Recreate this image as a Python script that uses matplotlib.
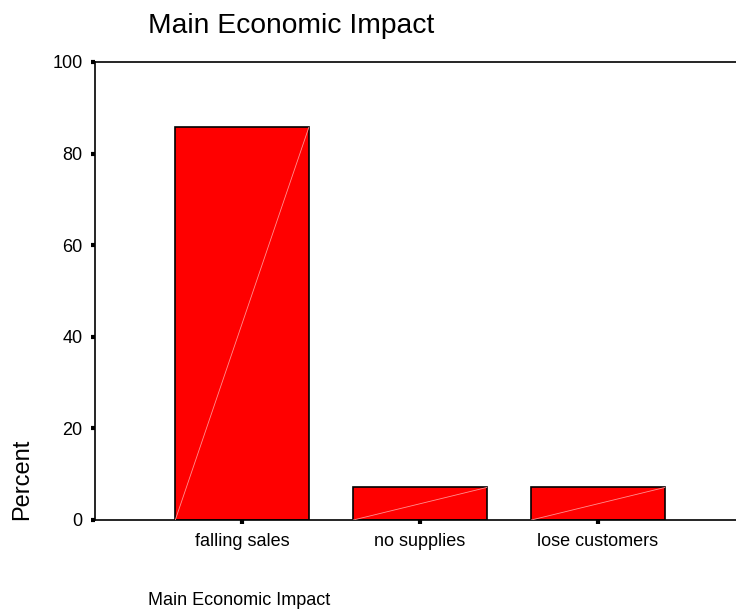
import matplotlib
matplotlib.use("Agg")
import matplotlib.pyplot as plt

plt.rcParams['font.family'] = ['Liberation Sans', 'DejaVu Sans']

# Data
categories = ["falling sales", "no supplies", "lose customers"]
percent = [85.7, 7.1, 7.1]
y_ticks = [0, 20, 40, 60, 80, 100]

fig = plt.figure(figsize=(7.36, 6.11), dpi=100)
ax = fig.add_axes([95 / 736, 91 / 611, 1 - 95 / 736, 458 / 611])

x = list(range(len(categories)))
bars = ax.bar(x, percent, width=0.75, color='#ff0000', edgecolor='black', linewidth=1.2)

# SPSS-style faint diagonal inside each bar
for p in bars.patches:
    x0, y0 = p.get_x(), p.get_y()
    ax.plot([x0, x0 + p.get_width()], [y0, y0 + p.get_height()],
            color='#ff9090', linewidth=0.6, zorder=3)

ax.set_xlim(-0.826, 2.775)
ax.set_ylim(0, 100)
ax.set_xticks(x)
ax.set_xticklabels(categories, fontsize=13)
ax.set_yticks(y_ticks)
ax.set_yticklabels([str(t) for t in y_ticks], fontsize=13)
ax.tick_params(axis='both', direction='out', length=3, width=3, pad=6)

ax.spines['right'].set_visible(False)
for s in ['left', 'top', 'bottom']:
    ax.spines[s].set_linewidth(1.2)

fig.text(148 / 736, 1 - 33 / 611, "Main Economic Impact", fontsize=20.3, va='baseline', ha='left')
fig.text(148 / 736, 1 - 605 / 611, "Main Economic Impact", fontsize=13, va='baseline', ha='left')
fig.text(22.5 / 736, 1 - 479.5 / 611, "Percent", fontsize=17, rotation=90, va='center', ha='center')

fig.savefig("out.png", dpi=100)
